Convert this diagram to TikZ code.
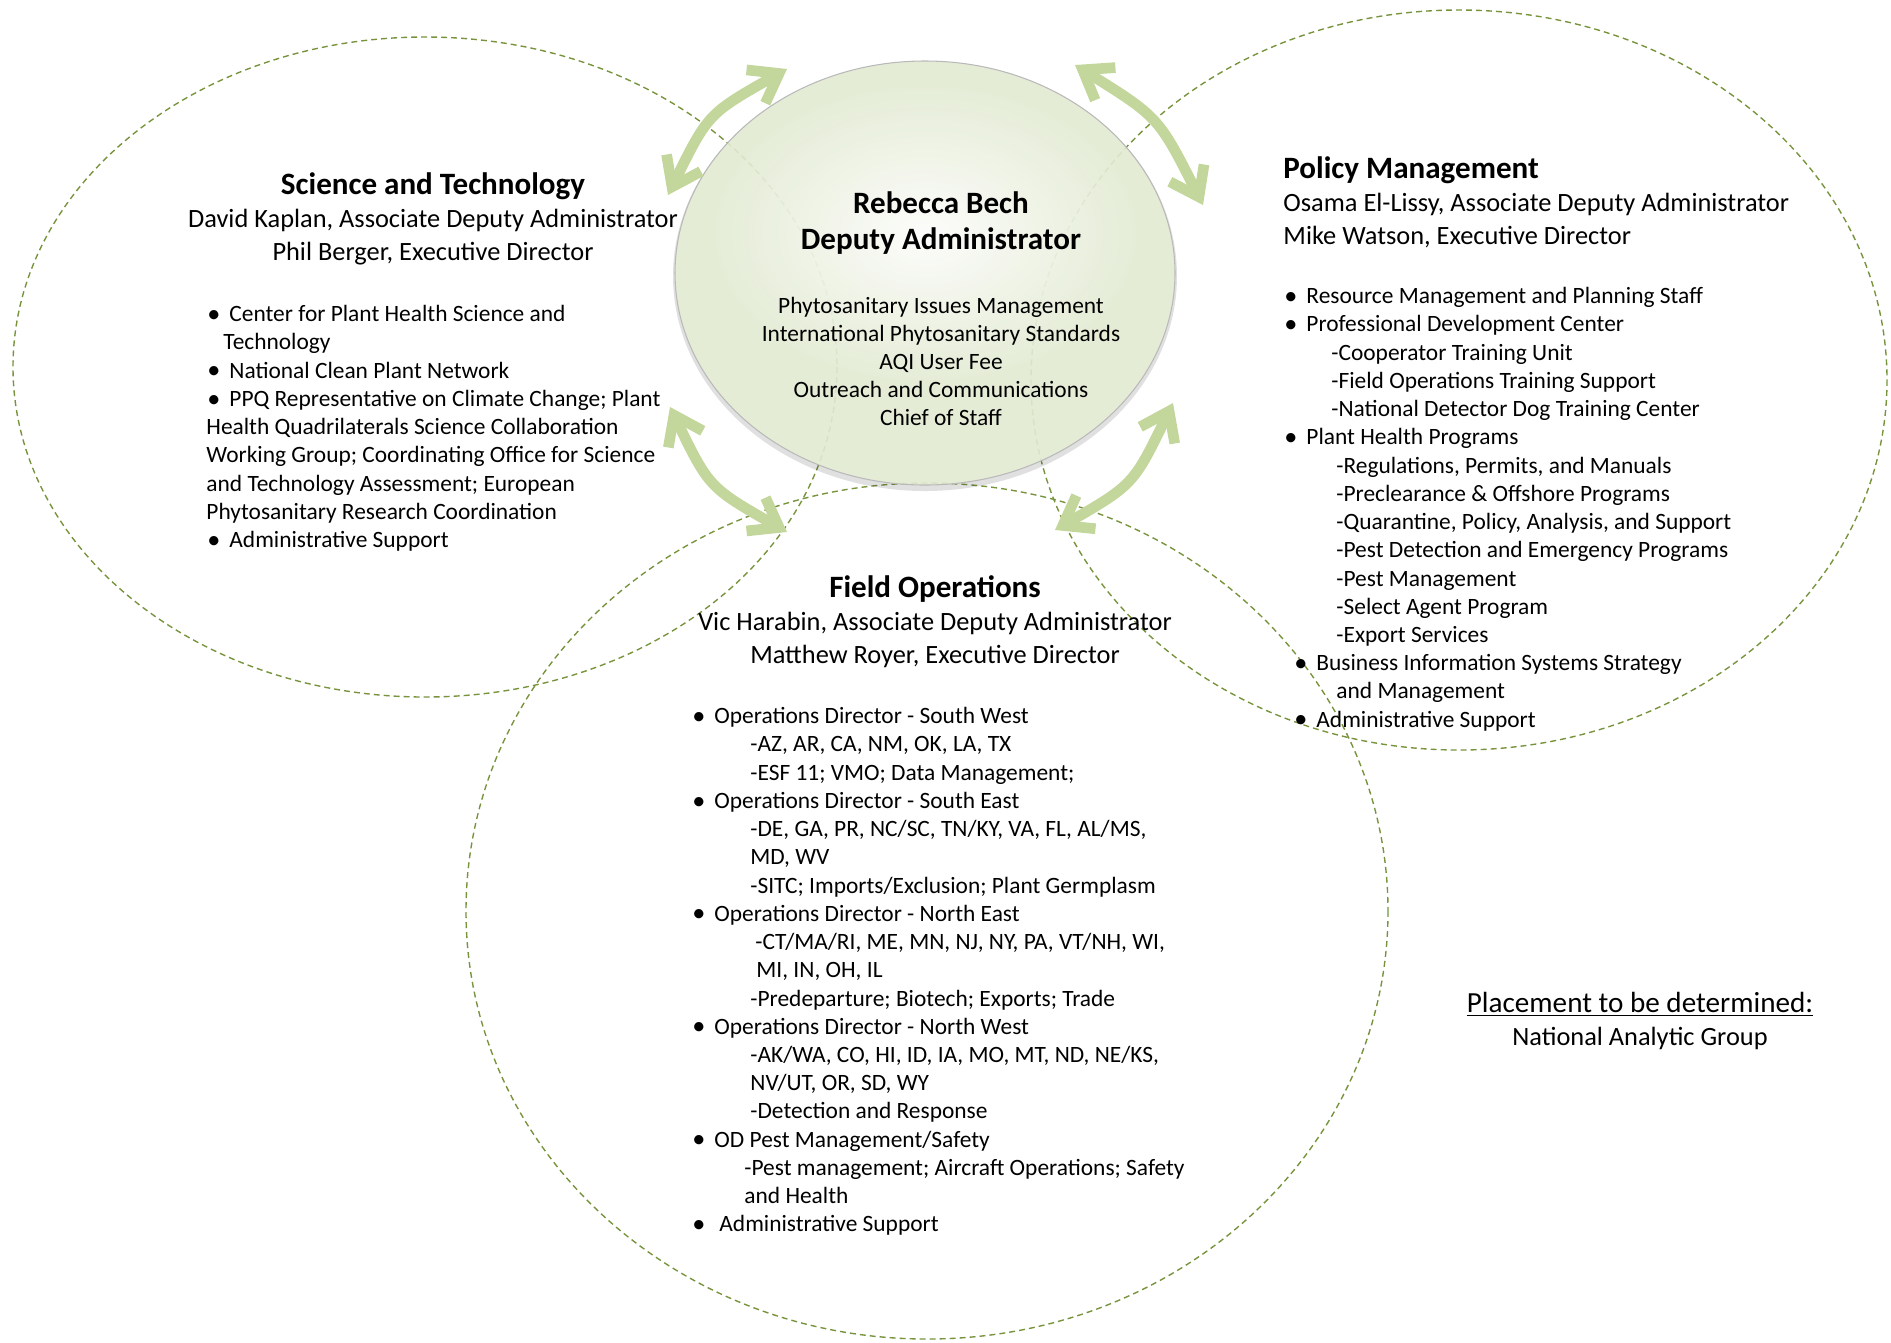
\documentclass[tikz,border=0pt]{standalone}
\usepackage{fontspec}
\setmainfont{Carlito}
\usepackage{tikz}
\usetikzlibrary{calc, arrows.meta, fadings}

\definecolor{olivedash}{RGB}{119,147,60}
\definecolor{arrowgreen}{RGB}{195,214,155}
\definecolor{bechgreen}{RGB}{226,234,210}

\tikzfading[name=bech glow, inner color=transparent!0, outer color=transparent!100]

\newlength{\pxu}
\setlength{\pxu}{0.47pt}
\newcommand{\pushin}[1]{\hspace*{#1\pxu}}
\newcommand{\bul}{\hspace*{-5\pxu}\makebox[22\pxu][l]{\raisebox{-0.3pt}{\scalebox{1.12}{\textbullet}}}}

\begin{document}
\begin{tikzpicture}[x=0.47pt, y=-0.47pt,
		office/.style = {draw=olivedash, line width=0.65pt, dash pattern=on 2.8pt off 1.9pt},
		bechlink/.style = {draw=arrowgreen, line width=5pt, >={Straight Barb[length=12.5pt, width=18pt]}, <->},
		heads/.style = {inner sep=0pt, align=center, font=\fontsize{12.4}{15.5}\selectfont},
		units/.style = {inner sep=0pt, align=left, font=\fontsize{11}{13.27}\selectfont}]
		
		\useasboundingbox (0,0) rectangle (1891,1342);
		
		\coordinate (sci centre) at (425,367);
		\coordinate (policy centre) at (1459,380);
		\coordinate (field centre) at (927,911);
		\coordinate (bech centre) at (925,273);
		
		\draw [office] (sci centre) ellipse [x radius=412, y radius=330];
		\draw [office] (policy centre) ellipse [x radius=428, y radius=370];
		\draw [office] (field centre) ellipse [x radius=461, y radius=428];
		
		% deputy administrator
		\fill [black, opacity=0.12, even odd rule] ($ (bech centre) + (0,3) $) ellipse [x radius=252, y radius=215] (bech centre) ellipse [x radius=250, y radius=212];
		\fill [bechgreen, fill opacity=0.9] (bech centre) ellipse [x radius=250, y radius=212];
		\fill [white, path fading=bech glow, fill opacity=0.9] ($ (bech centre) + (0,-40) $) ellipse [x radius=215, y radius=150];
		\draw [gray!55, line width=0.5pt] (bech centre) ellipse [x radius=250, y radius=212];
		
		\node [heads, anchor=north, font=\fontsize{14.6}{16.9}\selectfont\bfseries] (bech title) at (941,191) {Rebecca Bech\\ Deputy Administrator};
		\node [units, align=center, anchor=north, font=\fontsize{11}{13.1}\selectfont] (bech duties) at (941,297) {Phytosanitary Issues Management\\ International Phytosanitary Standards\\ AQI User Fee\\ Outreach and Communications\\ Chief of Staff};
		
		% science and technology
		\node [heads, anchor=north] (sci heads) at (433,172) {{\fontsize{14.6}{15.5}\selectfont\bfseries Science and Technology}\\ David Kaplan, Associate Deputy Administrator\\ Phil Berger, Executive Director};
		\node [units, anchor=north west] (sci units) at (206,305) {\pushin{6}\bul Center for Plant Health Science and\\
			\pushin{17}Technology\\
			\pushin{6}\bul National Clean Plant Network\\
			\pushin{6}\bul PPQ Representative on Climate Change; Plant\\
			Health Quadrilaterals Science Collaboration\\
			Working Group; Coordinating Office for Science\\
			and Technology Assessment; European\\
			Phytosanitary Research Coordination\\
			\pushin{6}\bul Administrative Support};
		
		% policy management
		\node [heads, align=left, anchor=north west] (policy heads) at (1283,156) {{\fontsize{14.6}{15.5}\selectfont\bfseries Policy Management}\\ Osama El-Lissy, Associate Deputy Administrator\\ Mike Watson, Executive Director};
		\node [units, anchor=north west] (policy units) at (1289,287) {\bul Resource Management and Planning Staff\\
			\bul Professional Development Center\\
			\pushin{42}-Cooperator Training Unit\\
			\pushin{42}-Field Operations Training Support\\
			\pushin{42}-National Detector Dog Training Center\\
			\bul Plant Health Programs\\
			\pushin{47}-Regulations, Permits, and Manuals\\
			\pushin{47}-Preclearance \& Offshore Programs\\
			\pushin{47}-Quarantine, Policy, Analysis, and Support\\
			\pushin{47}-Pest Detection and Emergency Programs\\
			\pushin{47}-Pest Management\\
			\pushin{47}-Select Agent Program\\
			\pushin{47}-Export Services\\
			\pushin{10}\bul Business Information Systems Strategy\\
			\pushin{47}and Management\\
			\pushin{10}\bul Administrative Support};
		
		% field operations
		\node [heads, anchor=north] (field heads) at (935,575) {{\fontsize{14.6}{15.5}\selectfont\bfseries Field Operations}\\ Vic Harabin, Associate Deputy Administrator\\ Matthew Royer, Executive Director};
		\node [units, anchor=north west] (field units) at (697,707) {\bul Operations Director - South West\\
			\pushin{53}-AZ, AR, CA, NM, OK, LA, TX\\
			\pushin{53}-ESF 11; VMO; Data Management;\\
			\bul Operations Director - South East\\
			\pushin{53}-DE, GA, PR, NC/SC, TN/KY, VA, FL, AL/MS,\\
			\pushin{53}MD, WV\\
			\pushin{53}-SITC; Imports/Exclusion; Plant Germplasm\\
			\bul Operations Director - North East\\
			\pushin{58}-CT/MA/RI, ME, MN, NJ, NY, PA, VT/NH, WI,\\
			\pushin{59}MI, IN, OH, IL\\
			\pushin{53}-Predeparture; Biotech; Exports; Trade\\
			\bul Operations Director - North West\\
			\pushin{53}-AK/WA, CO, HI, ID, IA, MO, MT, ND, NE/KS,\\
			\pushin{53}NV/UT, OR, SD, WY\\
			\pushin{53}-Detection and Response\\
			\bul OD Pest Management/Safety\\
			\pushin{47}-Pest management; Aircraft Operations; Safety\\
			\pushin{47}and Health\\
			\bul\pushin{5}Administrative Support};
		
		\node [heads, anchor=north] (placement) at (1640,992) {{\fontsize{13.7}{15.5}\selectfont\underline{Placement to be determined:}}\\ National Analytic Group};
		
		% arrows round the deputy administrator
		\coordinate (sci low) at (668,195);
		\coordinate (sci high) at (787,69);
		\coordinate (policy high) at (1075,65);
		\coordinate (policy low) at (1203,205);
		\coordinate (field left top) at (670,407);
		\coordinate (field left end) at (787,532);
		\coordinate (field right top) at (1173,403);
		\coordinate (field right end) at (1055,530);
		
		\draw [bechlink] (sci low) .. controls (708,113.6) .. (sci high);
		\draw [bechlink] (policy high) .. controls (1158.6,117) .. (policy low);
		\draw [bechlink] (field left top) .. controls (709,487.5) .. (field left end);
		\draw [bechlink] (field right top) .. controls (1133.6,484.6) .. (field right end);
	\end{tikzpicture}
\end{document}
